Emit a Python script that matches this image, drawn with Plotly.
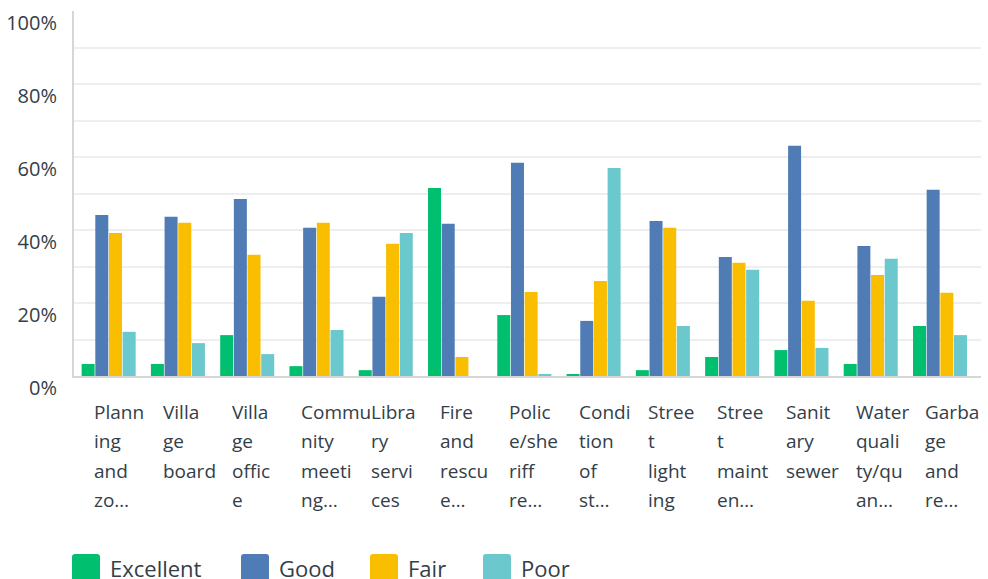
import plotly.graph_objects as go

# ---- data ----
categories = ["Planning and zoning", "Village board", "Village office", "Community meetings",
              "Library services", "Fire and rescue", "Police/sheriff response", "Condition of streets",
              "Street lighting", "Street maintenance", "Sanitary sewer", "Water quality/quantity",
              "Garbage and recycling"]
tick_lines = [["Plann", "ing", "and", "zo…"], ["Villa", "ge", "board"], ["Villa", "ge", "offic", "e"],
              ["Commu", "nity", "meeti", "ng…"], ["Libra", "ry", "servi", "ces"], ["Fire", "and", "rescu", "e…"],
              ["Polic", "e/she", "riff", "re…"], ["Condi", "tion", "of", "st…"], ["Stree", "t", "light", "ing"],
              ["Stree", "t", "maint", "en…"], ["Sanit", "ary", "sewer"], ["Water", "quali", "ty/qu", "an…"],
              ["Garba", "ge", "and", "re…"]]
series_names = ["Excellent", "Good", "Fair", "Poor"]
excellent = [3.3, 3.3, 11.2, 2.7, 1.6, 51.5, 16.7, 0.4, 1.6, 5.2, 7.1, 3.3, 13.7]
good = [44.1, 43.6, 48.5, 40.6, 21.7, 41.7, 58.4, 15.1, 42.5, 32.6, 63.1, 35.6, 51.0]
fair = [39.2, 42.0, 33.2, 42.0, 36.2, 5.2, 23.0, 26.0, 40.6, 31.0, 20.6, 27.7, 22.8]
poor = [12.1, 9.0, 6.0, 12.6, 39.2, 0.0, 0.4, 57.0, 13.7, 29.1, 7.7, 32.1, 11.2]
y_ticks = [0, 20, 40, 60, 80, 100]
y_tick_labels = ["0%", "20%", "40%", "60%", "80%", "100%"]

colors = ["#00BF6F", "#507CB6", "#F9BE00", "#6BC8CD"]
FONT = "Open Sans"
TXT = "#333E48"
PLOT_L, PLOT_W, PLOT_T, PLOT_B = 74, 907, 11, 376

fig = go.Figure()
for name, vals, col in zip(series_names, [excellent, good, fair, poor], colors):
    fig.add_trace(go.Bar(x=categories, y=vals, name=name, marker=dict(color=col, line=dict(width=0)),
                         showlegend=False))

annotations = []
# category labels, left-aligned wrapped lines
for cat, lines in zip(categories, tick_lines):
    for k, ln in enumerate(lines):
        annotations.append(dict(x=cat, xref="x", y=0, yref="paper", text=ln, showarrow=False,
                                xanchor="left", yanchor="middle", xshift=-17, yshift=-(35.5 + 29.5 * k),
                                font=dict(family=FONT, size=19, color=TXT)))

# custom legend (rounded squares + labels)
legend_sq_px = [72, 241, 370, 483]
shapes = []
for name, col, px in zip(series_names, colors, legend_sq_px):
    x0, x1, top, bot, r = 0, 28, -(554 - PLOT_B), -(582 - PLOT_B), 3
    path = (f"M {x0+r},{top} L {x1-r},{top} Q {x1},{top} {x1},{top-r} L {x1},{bot+r} Q {x1},{bot} {x1-r},{bot} "
            f"L {x0+r},{bot} Q {x0},{bot} {x0},{bot+r} L {x0},{top-r} Q {x0},{top} {x0+r},{top} Z")
    shapes.append(dict(type="path", xref="paper", yref="paper", xsizemode="pixel", ysizemode="pixel",
                       xanchor=(px - PLOT_L) / PLOT_W, yanchor=0, path=path, fillcolor=col,
                       line=dict(width=0)))
    annotations.append(dict(x=(px - PLOT_L) / PLOT_W, xref="paper", y=0, yref="paper", text=name,
                            showarrow=False, xanchor="left", yanchor="middle", xshift=36,
                            yshift=-(568 - PLOT_B), font=dict(family=FONT, size=22, color=TXT)))

fig.update_layout(
    width=988, height=579,
    margin=dict(l=PLOT_L, r=988 - PLOT_L - PLOT_W, t=PLOT_T, b=579 - PLOT_B, autoexpand=False),
    paper_bgcolor="white", plot_bgcolor="white",
    barmode="group", bargap=0.21, bargroupgap=0.05,
    annotations=annotations, shapes=shapes,
    xaxis=dict(showticklabels=False, showgrid=False, showline=True, linecolor="#d6d6d6", linewidth=2,
               ticks="", fixedrange=True, automargin=False),
    yaxis=dict(range=[0, 100], tickvals=y_ticks, ticktext=y_tick_labels, showgrid=True,
               gridcolor="#eeeeee", gridwidth=1.5, showline=True, linecolor="#d6d6d6", linewidth=2,
               ticks="", zeroline=False, ticklabelshift=12, ticklabelstandoff=11,
               ticklabeloverflow="allow", fixedrange=True, automargin=False,
               minor=dict(dtick=10, showgrid=True, gridcolor="#eeeeee", gridwidth=1.5),
               tickfont=dict(family=FONT, size=20, color=TXT)),
    font=dict(family=FONT, color=TXT),
)

fig.write_html("out.html", config={"displayModeBar": False},
               post_script="document.body.style.margin='0';document.body.style.overflow='hidden';")
